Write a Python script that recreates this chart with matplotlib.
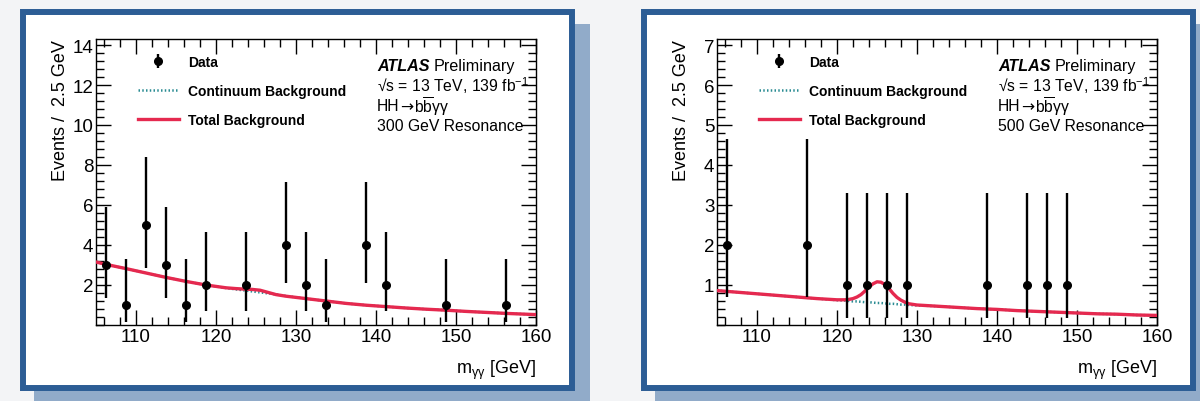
import matplotlib.pyplot as plt
from matplotlib.patches import Rectangle
from matplotlib.ticker import MultipleLocator

plt.rcParams['font.family'] = ['Liberation Sans', 'DejaVu Sans']
plt.rcParams['mathtext.fontset'] = 'custom'
plt.rcParams['mathtext.rm'] = 'Liberation Sans'
plt.rcParams['mathtext.it'] = 'Liberation Sans'
plt.rcParams['mathtext.default'] = 'regular'

# --- 300 GeV resonance selection ---
mass_300 = [106.25, 108.75, 111.25, 113.75, 116.25, 118.75, 123.75,
            128.75, 131.25, 133.75, 138.75, 141.25, 148.75, 156.25]
counts_300 = [3, 1, 5, 3, 1, 2, 2, 4, 2, 1, 4, 2, 1, 1]
errlo_300 = [1.63, 0.83, 2.16, 1.63, 0.83, 1.29, 1.29, 1.91, 1.29, 0.83, 1.91, 1.29, 0.83, 0.83]
errhi_300 = [2.92, 2.30, 3.38, 2.92, 2.30, 2.64, 2.64, 3.16, 2.64, 2.30, 3.16, 2.64, 2.30, 2.30]

bkg_m_300 = [105, 106.25, 108.75, 111.25, 113.75, 116.25, 118.75, 121.25, 122.5, 123.75,
             124.5, 125.5, 126.5, 127.5, 128.75, 131.25, 133.75, 136.25, 138.75, 141.25,
             143.75, 146.25, 148.75, 151.25, 153.75, 156.25, 158.75, 160]
total_300 = [3.15, 3.03, 2.82, 2.60, 2.38, 2.18, 2.00, 1.86, 1.82, 1.79,
             1.78, 1.74, 1.63, 1.52, 1.44, 1.32, 1.20, 1.08, 0.99, 0.92,
             0.85, 0.79, 0.74, 0.68, 0.63, 0.58, 0.54, 0.52]
cont_300 = [3.15, 3.03, 2.82, 2.60, 2.38, 2.18, 2.00, 1.85, 1.78, 1.72,
            1.68, 1.63, 1.58, 1.53, 1.45, 1.32, 1.20, 1.08, 0.99, 0.92,
            0.85, 0.79, 0.74, 0.68, 0.63, 0.58, 0.54, 0.52]

# --- 500 GeV resonance selection ---
mass_500 = [106.25, 116.25, 121.25, 123.75, 126.25, 128.75, 138.75, 143.75, 146.25, 148.75]
counts_500 = [2, 2, 1, 1, 1, 1, 1, 1, 1, 1]
errlo_500 = [1.29, 1.29, 0.83, 0.83, 0.83, 0.83, 0.83, 0.83, 0.83, 0.83]
errhi_500 = [2.64, 2.64, 2.30, 2.30, 2.30, 2.30, 2.30, 2.30, 2.30, 2.30]

bkg_m_500 = [105, 107.5, 110, 112.5, 115, 117.5, 120, 121, 121.5, 122, 122.5, 123, 123.5,
             124, 124.5, 125, 125.5, 126, 126.5, 127, 127.5, 128, 128.5, 129, 130,
             132.5, 135, 137.5, 140, 142.5, 145, 147.5, 150, 152.5, 155, 157.5, 160]
total_500 = [0.86, 0.82, 0.78, 0.74, 0.70, 0.66, 0.63, 0.63, 0.64, 0.66, 0.70, 0.76, 0.85,
             0.95, 1.03, 1.08, 1.07, 1.01, 0.91, 0.79, 0.69, 0.62, 0.57, 0.53, 0.50,
             0.47, 0.44, 0.41, 0.39, 0.36, 0.34, 0.32, 0.30, 0.28, 0.27, 0.25, 0.24]
cont_500 = [0.86, 0.82, 0.78, 0.74, 0.70, 0.66, 0.62, 0.61, 0.60, 0.59, 0.59, 0.58, 0.57,
            0.57, 0.56, 0.55, 0.55, 0.54, 0.53, 0.53, 0.52, 0.51, 0.51, 0.50, 0.49,
            0.47, 0.44, 0.41, 0.39, 0.36, 0.34, 0.32, 0.30, 0.28, 0.27, 0.25, 0.24]

W, H = 1200, 402
RED = '#e5294f'
TEAL = '#2b8c93'
FRAME = '#2c5d95'
SHADOW = '#91abc9'

fig = plt.figure(figsize=(W / 100, H / 100), dpi=100)
fig.patch.set_facecolor('#f3f4f6')


def frac(x0, y0, x1, y1):
    return [x0 / W, 1 - y1 / H, (x1 - x0) / W, (y1 - y0) / H]


def panel_box(x0):
    # drop shadow, then white card with blue border
    l, b, w, h = frac(x0 + 14, 25, x0 + 570, 430)
    fig.add_artist(Rectangle((l, b), w, h, transform=fig.transFigure,
                             facecolor=SHADOW, edgecolor='none', zorder=0))
    l, b, w, h = frac(x0 + 3, 13, x0 + 552, 389)
    fig.add_artist(Rectangle((l, b), w, h, transform=fig.transFigure,
                             facecolor='white', edgecolor=FRAME, linewidth=4.3, zorder=0.5))


def draw_panel(x0, mass, counts, lo, hi, bm, total, cont, ymax, major, minor, title):
    panel_box(x0)
    ax = fig.add_axes(frac(x0 + 76, 40, x0 + 516, 326))
    ax.set_zorder(2)
    cl, = ax.plot(bm, cont, color=TEAL, lw=1.8, ls=(0, (0.6, 0.9)), zorder=2)
    tl, = ax.plot(bm, total, color=RED, lw=2.4, zorder=3)
    dat = ax.errorbar(mass, counts, yerr=[lo, hi], fmt='o', color='black', ms=5.5,
                      elinewidth=1.7, capsize=0, zorder=4)
    ax.set_xlim(105, 160)
    ax.set_ylim(0, ymax)
    ax.xaxis.set_major_locator(MultipleLocator(10))
    ax.xaxis.set_minor_locator(MultipleLocator(2))
    ax.yaxis.set_major_locator(MultipleLocator(major))
    ax.yaxis.set_minor_locator(MultipleLocator(minor))
    ax.tick_params(which='both', direction='in', top=True, right=True, labelsize=13.5,
                   width=1.0, pad=2)
    ax.tick_params(which='major', length=11)
    ax.tick_params(which='minor', length=6)
    yt = [t for t in ax.get_yticks() if 0 < t <= ymax]
    ax.set_yticks(yt)
    ax.set_yticklabels(['%g' % t for t in yt])
    for s in ax.spines.values():
        s.set_linewidth(1.0)
    ax.set_xlabel(r'm$_{\gamma\gamma}$ [GeV]', fontsize=13, ha='right', x=1.0)
    ax.xaxis.set_label_coords(1.0, -0.115)
    ax.set_ylabel('Events /  2.5 GeV', fontsize=13, ha='right', y=1.0)
    ax.yaxis.set_label_coords(-0.062, 1.0)

    ax.legend([dat, cl, tl], ['Data', 'Continuum Background', 'Total Background'],
              loc='upper left', bbox_to_anchor=(0.095, 0.945), frameon=False,
              prop={'weight': 'bold', 'size': 10}, handlelength=2.95,
              handletextpad=0.65, labelspacing=1.1, borderpad=0, borderaxespad=0)

    tx, ty, dy = 0.639, 0.909, 0.07
    ax.text(tx, ty, 'ATLAS', transform=ax.transAxes, fontsize=11.6, fontweight='bold',
            fontstyle='italic', va='center')
    ax.text(tx + 0.128, ty, 'Preliminary', transform=ax.transAxes, fontsize=11.6, va='center')
    ax.text(tx, ty - dy, '√s = 13 TeV, 139 fb$^{-1}$', transform=ax.transAxes,
            fontsize=11.3, va='center')
    ax.text(tx, ty - 2 * dy, 'HH', transform=ax.transAxes, fontsize=11.3, va='center')
    ax.text(tx + 0.053, ty - 2 * dy - 0.006, '→', transform=ax.transAxes, fontsize=11.3,
            va='center', family='DejaVu Sans')
    ax.text(tx + 0.084, ty - 2 * dy, 'b$\\overline{b}$γγ', transform=ax.transAxes,
            fontsize=11.3, va='center')
    ax.text(tx, ty - 3 * dy, title, transform=ax.transAxes, fontsize=11.3, va='center')
    return ax


draw_panel(20, mass_300, counts_300, errlo_300, errhi_300, bkg_m_300, total_300, cont_300,
           14.3, 2, 0.4, '300 GeV Resonance')
draw_panel(641, mass_500, counts_500, errlo_500, errhi_500, bkg_m_500, total_500, cont_500,
           7.15, 1, 0.2, '500 GeV Resonance')

fig.savefig('out.png', dpi=100, facecolor=fig.get_facecolor())
